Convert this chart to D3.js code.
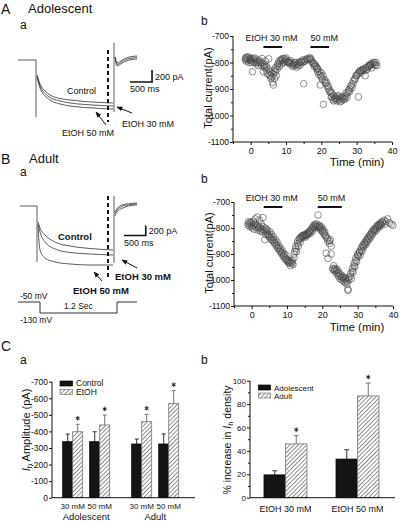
<!DOCTYPE html>
<html><head><meta charset="utf-8">
<script src="https://cdn.jsdelivr.net/npm/d3@7"></script>
<style>body{margin:0;background:#fff}svg{display:block;font-family:"Liberation Sans",Arimo,Arial,sans-serif}</style>
</head><body><svg id="c" width="400" height="521"></svg>
<script>
// ---------------- DATA ----------------
// Current traces (time in ms from step onset, current in pA)
const traceTimeA = [23, 91, 205, 318, 545, 773, 1114, 1455, 1750];
const traceA_control = [-250, -400, -517, -583, -642, -667, -692, -708, -717];
const traceA_etoh30 = [-267, -433, -558, -625, -683, -717, -742, -758, -767];
const traceA_etoh50 = [-283, -467, -600, -667, -733, -767, -792, -808, -817];
const tailTime = [1795, 1841, 1955, 2068, 2295];
const tailA_control = [50, -50, 0, 40, 67];
const tailA_etoh30 = [45, -75, -25, 15, 42];
const tailA_etoh50 = [40, -100, -50, -10, 17];
const transientA = {on: [0, -950], off: [283, -867]};

const traceTimeB = [23, 69, 184, 414, 759, 1220, 1750];
const traceB_control = [-320, -440, -580, -720, -800, -850, -880];
const traceB_etoh30 = [-360, -520, -720, -860, -930, -960, -980];
const traceB_etoh50 = [-400, -880, -1040, -1120, -1160, -1180, -1180];
const tailTimeB = [1790, 1850, 1950, 2100, 2300];
const tailB_control = [-120, -40, 20, 45, 60];
const tailB_etoh30 = [-150, -70, -10, 20, 45];
const tailB_etoh50 = [-200, -110, -50, 0, 20];
const transientB = {on: [0, -1120], off: [200, -1140]};
const stepEnd = 1770;

// Voltage protocol (ms, mV)
const protoTime = [-343, 0, 0, 1200, 1200, 1511];
const protoVolt = [-50, -50, -130, -130, -50, -50];

// Time-course scatter (min, pA)
const scatterA = [[-1.5,-785],[-1.5,-790],[-1.3,-780],[-1.2,-795],[-1,-783],[-0.8,-790],[-0.7,-778],[-0.5,-800],[-0.3,-785],[-0.2,-792],[0,-790],[0,-783],[0.2,-800],[0.5,-795],[0.5,-835],[0.7,-785],[1,-790],[1,-800],[1.2,-783],[1.5,-795],[1.6,-805],[2,-790],[2,-800],[2.2,-812],[2.5,-800],[2.5,-793],[3,-800],[3,-810],[3.2,-785],[3.5,-805],[3.6,-835],[3.8,-815],[4,-810],[4,-820],[4.2,-795],[4.5,-815],[4.5,-830],[4.7,-842],[5,-825],[5.1,-786],[5.2,-845],[5.5,-835],[5.5,-850],[5.7,-860],[6,-840],[6,-855],[6.2,-875],[6.4,-885],[6.5,-845],[6.7,-830],[6.8,-860],[7,-835],[7,-820],[7.3,-850],[7.5,-815],[7.5,-825],[7.7,-805],[8,-805],[8,-795],[8.2,-815],[8.5,-795],[8.5,-790],[8.8,-805],[9,-790],[9,-785],[9.3,-800],[9.5,-785],[9.7,-795],[10,-790],[10,-783],[10.3,-798],[10.5,-795],[10.7,-800],[11,-798],[11,-805],[11.2,-792],[11.5,-802],[11.7,-810],[12,-805],[12,-815],[12.3,-800],[12.5,-810],[12.7,-800],[13,-808],[13,-818],[13.3,-805],[13.5,-812],[13.7,-798],[14,-800],[14,-810],[14.3,-795],[14.5,-800],[14.8,-790],[15,-880],[15,-798],[15.3,-795],[15.5,-790],[16,-790],[16,-785],[16.5,-788],[16.7,-782],[17,-785],[17,-790],[17.3,-795],[17.5,-800],[17.7,-805],[18,-805],[18,-815],[18.3,-810],[18.5,-815],[18.7,-825],[18.8,-820],[19,-825],[19,-835],[19.3,-845],[19.5,-835],[19.7,-885],[19.8,-850],[20,-840],[20,-855],[20.3,-865],[20.5,-850],[20.6,-958],[21,-865],[21,-875],[21.3,-880],[21.5,-875],[21.7,-890],[22,-890],[22,-900],[22.3,-910],[22.5,-905],[22.7,-915],[22.8,-930],[23,-915],[23,-930],[23.3,-940],[23.5,-925],[23.5,-945],[23.8,-935],[24,-930],[24,-940],[24.3,-935],[24.5,-945],[24.7,-925],[25,-940],[25,-930],[25.3,-948],[25.5,-935],[25.7,-945],[26,-935],[26,-928],[26.3,-940],[26.5,-930],[26.7,-938],[27,-925],[27,-915],[27.3,-932],[27.5,-915],[27.7,-905],[28,-900],[28,-910],[28.3,-890],[28.5,-885],[28.7,-895],[29,-870],[29,-880],[29.5,-860],[29.5,-865],[29.8,-850],[30,-850],[30.2,-845],[30.5,-930],[30.5,-840],[30.7,-835],[31,-835],[31,-830],[31.3,-840],[31.5,-830],[31.7,-825],[32,-825],[32,-830],[32.4,-850],[32.5,-820],[32.7,-828],[33,-818],[33,-825],[33.3,-812],[33.5,-815],[33.7,-810],[34,-810],[34,-805],[34.3,-820],[34.5,-805],[34.7,-800],[35,-800],[35,-808],[35.3,-810],[35.5,-800],[35.7,-812]];
const scatterB = [[-1,-782],[-1,-790],[-0.8,-775],[-0.5,-785],[-0.5,-795],[-0.3,-778],[0,-780],[0,-792],[0.2,-800],[0.5,-790],[0.5,-775],[0.7,-805],[1,-785],[1,-765],[1.2,-798],[1.5,-790],[1.6,-758],[1.8,-808],[2,-795],[2,-800],[2.2,-770],[2.5,-800],[2.5,-812],[2.7,-785],[3,-805],[3,-815],[3.2,-795],[3.2,-760],[3.5,-810],[3.7,-845],[3.8,-800],[4,-815],[4,-825],[4.2,-805],[4.5,-820],[4.5,-810],[4.7,-830],[5,-825],[5,-835],[5.2,-815],[5.5,-835],[5.5,-845],[5.7,-825],[6,-845],[6,-850],[6.2,-835],[6.5,-855],[6.5,-860],[6.7,-845],[7,-865],[7,-870],[7.2,-855],[7.5,-875],[7.5,-880],[7.7,-868],[8,-885],[8,-890],[8.2,-878],[8.5,-895],[8.5,-900],[8.7,-888],[9,-905],[9,-910],[9.2,-898],[9.5,-915],[9.5,-920],[9.7,-905],[10,-920],[10,-925],[10.2,-930],[10.5,-930],[10.5,-935],[10.7,-925],[11,-935],[11,-945],[11.2,-930],[11.5,-925],[11.5,-935],[11.7,-940],[12,-900],[12,-915],[12.2,-890],[12.5,-880],[12.5,-870],[12.7,-890],[13,-860],[13,-850],[13.2,-870],[13.5,-845],[13.5,-840],[13.7,-855],[14,-840],[14,-835],[14.2,-830],[14.5,-835],[14.5,-830],[14.7,-828],[15,-830],[15,-825],[15.2,-835],[15.5,-825],[15.5,-830],[15.7,-820],[16,-820],[16,-825],[16.2,-815],[16.5,-815],[16.5,-810],[16.7,-820],[17,-805],[17,-800],[17.2,-812],[17.5,-795],[17.5,-790],[17.7,-800],[18,-790],[18,-785],[18.2,-795],[18.5,-785],[18.5,-795],[18.8,-750],[19,-795],[19,-800],[19.2,-790],[19.5,-800],[19.5,-808],[19.7,-795],[20,-810],[20,-815],[20.2,-805],[20.5,-820],[20.5,-825],[20.7,-815],[21,-830],[21,-835],[21.1,-897],[21.5,-840],[21.5,-850],[21.6,-917],[22,-850],[22,-860],[22.2,-845],[22.5,-870],[22.5,-900],[23,-955],[23,-960],[23.2,-945],[23.5,-960],[23.5,-965],[23.7,-955],[24,-965],[24,-975],[24.2,-960],[24.5,-975],[24.5,-985],[24.7,-970],[25,-985],[25,-995],[25.2,-980],[25.5,-990],[25.5,-1000],[25.7,-985],[26,-995],[26,-1005],[26.2,-990],[26.5,-1000],[26.5,-1010],[26.7,-995],[27,-1005],[27,-1015],[27.2,-1035],[27.5,-1000],[27.5,-990],[27.3,-1040],[28,-985],[28,-975],[28.2,-995],[28.5,-965],[28.5,-955],[28.7,-970],[29,-945],[29,-935],[29.2,-950],[29.5,-925],[29.5,-915],[29.7,-930],[30,-905],[30,-900],[30.2,-910],[30.5,-895],[30.5,-890],[30.7,-905],[31,-885],[31,-875],[31.2,-890],[31.5,-870],[31.5,-865],[31.7,-875],[32,-860],[32,-855],[32.2,-865],[32.5,-850],[32.5,-845],[32.7,-855],[33,-840],[33,-835],[33.2,-845],[33.5,-830],[33.5,-825],[33.7,-835],[34,-820],[34,-815],[34.2,-825],[34.5,-810],[34.5,-805],[34.7,-815],[35,-805],[35,-800],[35.2,-810],[35.5,-795],[35.5,-790],[35.7,-800],[36,-790],[36,-785],[36.2,-795],[36.5,-785],[36.5,-780],[36.7,-790],[37,-780],[37,-775],[37.5,-770],[37.7,-785],[38,-775],[38.5,-765],[39,-780],[39.5,-785],[40,-790]];
const periodsA = [[3.6, 8.9], [16.9, 22.2]];
const periodsB = [[3.4, 8.7], [18.7, 25.5]];
const periodLabels = ["EtOH 30 mM", "50 mM"];
const scatterYTicks = [-1100, -1000, -900, -800, -700];
const scatterYMinor = [-1050, -950, -850, -750];
const scatterXTicks = [0, 10, 20, 30, 40];
const scatterXMinor = [-5, 5, 15, 25, 35];

// Panel C a: Ih amplitude (pA)
const ageGroups = ["Adolescent", "Adult"];
const concs = ["30 mM", "50 mM"];
const conditions = ["Control", "EtOH"];
const ihControl = [-338, -338, -324, -324];
const ihControlErr = [-384, -398, -354, -385];
const ihEtoh = [-398, -439, -459, -569];
const ihEtohErr = [-443, -499, -503, -646];
const ihTicks = [0, -100, -200, -300, -400, -500, -600, -700];

// Panel C b: % increase in Ih density
const doseGroups = ["EtOH 30 mM", "EtOH 50 mM"];
const incAdolescent = [19.5, 33];
const incAdolescentErr = [23, 41];
const incAdult = [46, 87];
const incAdultErr = [53, 98];
const incTicks = [0, 20, 40, 60, 80, 100];
const incMinor = [10, 30, 50, 70, 90];

// ---------------- DRAW ----------------
const svg = d3.select("#c");
const INK = "#111";
function txt(x, y, s, size, opt = {}) {
  const t = svg.append("text").attr("x", x).attr("y", y).text(s)
    .attr("font-size", size).attr("fill", INK);
  if (opt.anchor) t.attr("text-anchor", opt.anchor);
  if (opt.weight) t.attr("font-weight", opt.weight);
  return t;
}
const defs = svg.append("defs");
defs.append("marker").attr("id", "arr").attr("viewBox", "0 0 10 10")
  .attr("refX", 9).attr("refY", 5).attr("markerWidth", 6).attr("markerHeight", 6)
  .attr("orient", "auto").append("path").attr("d", "M0,1L10,5L0,9z").attr("fill", INK);
const pat = defs.append("pattern").attr("id", "hatch").attr("patternUnits", "userSpaceOnUse")
  .attr("width", 3).attr("height", 3).attr("patternTransform", "rotate(45)");
pat.append("rect").attr("width", 3).attr("height", 3).attr("fill", "#fff");
pat.append("line").attr("x1", 0.5).attr("y1", 0).attr("x2", 0.5).attr("y2", 3)
  .attr("stroke", "#8c8c8c").attr("stroke-width", 1);

function arrow(x1, y1, x2, y2) {
  svg.append("line").attr("x1", x1).attr("y1", y1).attr("x2", x2).attr("y2", y2)
    .attr("stroke", INK).attr("stroke-width", 1).attr("marker-end", "url(#arr)");
}
// significance asterisk drawn as a small six-armed mark centred above the error bar
function star(cx, cy) {
  const r = 2.3, p = [];
  for (let k = 0; k < 3; k++) {
    const a = Math.PI / 2 + k * Math.PI / 3;
    p.push(`M${cx + r * Math.cos(a)},${cy - r * Math.sin(a)}L${cx - r * Math.cos(a)},${cy + r * Math.sin(a)}`);
  }
  svg.append("path").attr("d", p.join("")).attr("stroke", "#111").attr("stroke-width", 0.9).attr("fill", "none");
}

// ---- Trace panels ----
function tracePanel(cfg) {
  const x = cfg.x, y = cfg.y;
  const line = d3.line().x(d => x(d[0])).y(d => y(d[1])).curve(d3.curveMonotoneX);
  const g = svg.append("g").attr("fill", "none").attr("stroke", "#333").attr("stroke-width", 0.8);
  g.append("path").attr("d", d3.line()([[x(cfg.baseStart), y(0)], [x(0), y(0)]]));
  g.append("path").attr("d", d3.line()([[x(0), y(cfg.trans.on[0])], [x(0), y(cfg.trans.on[1])]]));
  g.append("path").attr("d", d3.line()([[x(stepEnd), y(cfg.trans.off[0])], [x(stepEnd), y(cfg.trans.off[1])]]));
  cfg.traces.forEach(tr => {
    g.append("path").attr("d", line(cfg.time.map((t, i) => [t, tr[i]])));
  });
  cfg.tails.forEach(tr => {
    g.append("path").attr("d", line(cfg.tailTime.map((t, i) => [t, tr[i]])));
  });
  svg.append("line").attr("x1", cfg.dashX).attr("x2", cfg.dashX).attr("y1", cfg.dashY[0]).attr("y2", cfg.dashY[1])
    .attr("stroke", INK).attr("stroke-width", 2).attr("stroke-dasharray", "4,3");
  const [sx, sy] = cfg.bar;
  const w = x(500) - x(0), h = y(-200) - y(0);
  svg.append("path").attr("d", `M${sx},${sy}H${sx + w}V${sy - h}`)
    .attr("fill", "none").attr("stroke", INK).attr("stroke-width", 1.6);
  txt(sx + w + 3, sy - 2, "200 pA", 9);
  txt(sx, sy + 10, "500 ms", 9);
}

// Panel A a
const xTA = d3.scaleLinear().domain([0, stepEnd]).range([36, 114]);
const yTA = d3.scaleLinear().domain([0, -200]).range([60, 72]);
tracePanel({x: xTA, y: yTA, baseStart: -410, trans: transientA, time: traceTimeA,
  traces: [traceA_control, traceA_etoh30, traceA_etoh50], tailTime: tailTime,
  tails: [tailA_control, tailA_etoh30, tailA_etoh50], dashX: 108, dashY: [50, 122], bar: [130, 82]});
txt(1, 14, "A", 14);
txt(28, 13, "Adolescent", 13);
txt(20, 29, "a", 12);
txt(67, 94, "Control", 9);
arrow(132, 113, 117, 107);
txt(122, 127, "EtOH 30 mM", 9);
arrow(106, 125, 96, 112);
txt(62, 136, "EtOH 50 mM", 9);

// Panel B a
const xTB = d3.scaleLinear().domain([0, stepEnd]).range([37, 114]);
const yTB = d3.scaleLinear().domain([0, -200]).range([206, 216]);
tracePanel({x: xTB, y: yTB, baseStart: -390, trans: transientB, time: traceTimeB,
  traces: [traceB_control, traceB_etoh30, traceB_etoh50], tailTime: tailTimeB,
  tails: [tailB_control, tailB_etoh30, tailB_etoh50], dashX: 108, dashY: [196, 277], bar: [124, 235.5]});
txt(1, 164, "B", 14);
txt(29, 163, "Adult", 13);
txt(20, 176, "a", 12);
txt(58, 240, "Control", 9.5, {weight: "bold"});
arrow(137, 268, 122, 260);
txt(115, 280, "EtOH 30 mM", 9.5, {weight: "bold"});
arrow(102, 281, 94, 272);
txt(73, 294, "EtOH 50 mM", 9.5, {weight: "bold"});

// Voltage protocol
const xP = d3.scaleLinear().domain([0, 1200]).range([40, 117]);
const yP = d3.scaleLinear().domain([-50, -130]).range([302, 313]);
svg.append("path").attr("d", d3.line().x(d => xP(d[0])).y(d => yP(d[1]))(protoTime.map((t, i) => [t, protoVolt[i]])))
  .attr("fill", "none").attr("stroke", "#333").attr("stroke-width", 1);
txt(20, 299, "-50 mV", 8.5);
txt(64, 309, "1.2 Sec", 8.5);
txt(20, 323, "-130 mV", 8.5);

// ---- Scatter panels ----
function scatterPanel(cfg) {
  const x = d3.scaleLinear().domain([-5, 40]).range(cfg.xr);
  const y = d3.scaleLinear().domain([-1100, -700]).range(cfg.yr);
  const ax = svg.append("g").attr("transform", `translate(0,${cfg.yr[0]})`)
    .call(d3.axisBottom(x).tickValues(scatterXTicks).tickSize(3).tickPadding(3).tickFormat(d => String(d)));
  svg.append("g").attr("transform", `translate(0,${cfg.yr[0]})`)
    .call(d3.axisBottom(x).tickValues(scatterXMinor).tickSize(2).tickFormat(""))
    .select(".domain").remove();
  const ay = svg.append("g").attr("transform", `translate(${cfg.xr[0]},0)`)
    .call(d3.axisLeft(y).tickValues(scatterYTicks).tickSize(3).tickPadding(1).tickFormat(d => String(d)));
  svg.append("g").attr("transform", `translate(${cfg.xr[0]},0)`)
    .call(d3.axisLeft(y).tickValues(scatterYMinor).tickSize(2).tickFormat(""))
    .select(".domain").remove();
  [ax, ay].forEach(a => { a.attr("font-family", null); a.selectAll("text").attr("font-size", 8.5).attr("fill", INK); });
  ax.selectAll("text").attr("font-size", 9);
  ax.select(".domain").attr("d", `M${cfg.xr[0]},0H${cfg.xr[1]}`);
  ay.select(".domain").attr("d", `M0,${cfg.yr[0]}V${cfg.yr[1]}`);
  svg.append("g").selectAll("circle").data(cfg.data).join("circle")
    .attr("cx", d => x(d[0])).attr("cy", d => y(d[1])).attr("r", 3.3)
    .attr("fill", "none").attr("stroke", "#444").attr("stroke-width", 0.6);
  cfg.periods.forEach((p, i) => {
    svg.append("line").attr("x1", x(p[0])).attr("x2", x(p[1])).attr("y1", cfg.barY).attr("y2", cfg.barY)
      .attr("stroke", INK).attr("stroke-width", 2);
    txt(i === 0 ? x(p[0]) - 18 : x(p[0]), cfg.barY - 6, periodLabels[i], 9);
  });
  svg.append("text").attr("transform", `translate(${cfg.xr[0] - 21},${cfg.titleY}) rotate(-90)`)
    .attr("text-anchor", "middle").attr("font-size", 11).attr("fill", INK).text("Total current(pA)");
  txt(357, cfg.timeY, "Time (min)", 11.5, {anchor: "middle"});
  txt(201, cfg.bY, "b", 12);
}
scatterPanel({data: scatterA, xr: [233, 392], yr: [142, 36], periods: periodsA, barY: 47, titleY: 88, timeY: 166, bY: 25});
scatterPanel({data: scatterB, xr: [234, 393], yr: [306, 202], periods: periodsB, barY: 207, titleY: 253, timeY: 331, bY: 183});

// ---- Panel C a ----
txt(1, 351, "C", 14);
txt(20, 364, "a", 12);
const yCa = d3.scaleLinear().domain([0, -700]).range([497.7, 381.7]);
const xAge = d3.scaleBand().domain(ageGroups).range([62.7, 178.7]).paddingInner(0.319);
const xConc = d3.scaleBand().domain(concs).range([0, xAge.bandwidth()]).paddingInner(0.26);
const xCond = d3.scaleBand().domain(conditions).range([0, xConc.bandwidth()]);
const caRows = [];
ageGroups.forEach((a, ai) => concs.forEach((c, ci) => {
  const k = ai * 2 + ci;
  caRows.push({a, c, cond: "Control", v: ihControl[k], e: ihControlErr[k], star: false});
  caRows.push({a, c, cond: "EtOH", v: ihEtoh[k], e: ihEtohErr[k], star: true});
}));
function barX(d) { return xAge(d.a) + xConc(d.c) + xCond(d.cond); }
const bw = xCond.bandwidth();
caRows.forEach(d => {
  const x0 = barX(d), cx = x0 + bw / 2;
  const col = d.cond === "Control" ? "#333" : "#777";
  svg.append("line").attr("x1", cx).attr("x2", cx).attr("y1", yCa(d.v)).attr("y2", yCa(d.e)).attr("stroke", col).attr("stroke-width", 1);
  svg.append("line").attr("x1", cx - 2).attr("x2", cx + 2).attr("y1", yCa(d.e)).attr("y2", yCa(d.e)).attr("stroke", col).attr("stroke-width", 1);
  svg.append("rect").attr("x", x0).attr("y", yCa(d.v)).attr("width", bw).attr("height", yCa(0) - yCa(d.v))
    .attr("fill", d.cond === "Control" ? "#141414" : "url(#hatch)")
    .attr("stroke", d.cond === "Control" ? "#000" : "#777").attr("stroke-width", 0.8);
  if (d.star) star(cx, yCa(d.e) - 6);
});
const aCa = svg.append("g").attr("transform", "translate(52,0)")
  .call(d3.axisLeft(yCa).tickValues(ihTicks).tickSize(3).tickPadding(1).tickFormat(d => String(d)));
aCa.attr("font-family", null).selectAll("text").attr("font-size", 8.5).attr("fill", INK);
aCa.select(".domain").attr("d", `M0,${yCa(0)}V${yCa(-700)}`);
svg.append("line").attr("x1", 52).attr("x2", 195).attr("y1", yCa(0)).attr("y2", yCa(0)).attr("stroke", INK);
ageGroups.forEach(a => {
  concs.forEach(c => txt(xAge(a) + xConc(c) + xConc.bandwidth() / 2, 508.5, c, 8, {anchor: "middle"}));
  txt(xAge(a) + xAge.bandwidth() / 2, 520, a, 9.5, {anchor: "middle"});
});
[["Control", "#141414", 381, 386], ["EtOH", "url(#hatch)", 389.5, 395]].forEach(l => {
  svg.append("rect").attr("x", 60).attr("y", l[2]).attr("width", 12.5).attr("height", 5)
    .attr("fill", l[1]).attr("stroke", l[1] === "#141414" ? "#000" : "#777").attr("stroke-width", 0.7);
  txt(76, l[3], l[0], 8.5);
});
const ylab = svg.append("text").attr("transform", "translate(30,430) rotate(-90)")
  .attr("text-anchor", "middle").attr("font-size", 11).attr("fill", INK);
ylab.append("tspan").attr("font-style", "italic").text("I");
ylab.append("tspan").attr("font-size", 8).attr("dy", 2).text("h");
ylab.append("tspan").attr("dy", -2).text(" Amplitude (pA)");

// ---- Panel C b ----
txt(201, 364, "b", 12);
const yCb = d3.scaleLinear().domain([0, 100]).range([497.7, 380.7]);
const xDose = d3.scaleBand().domain(doseGroups).range([264, 379]).paddingInner(0.403);
const xAgeB = d3.scaleBand().domain(ageGroups).range([0, xDose.bandwidth()]);
const cbRows = [];
doseGroups.forEach((g, i) => {
  cbRows.push({g, a: "Adolescent", v: incAdolescent[i], e: incAdolescentErr[i], star: false});
  cbRows.push({g, a: "Adult", v: incAdult[i], e: incAdultErr[i], star: true});
});
const bwb = xAgeB.bandwidth();
cbRows.forEach(d => {
  const x0 = xDose(d.g) + xAgeB(d.a), cx = x0 + bwb / 2;
  const col = d.a === "Adolescent" ? "#333" : "#777";
  svg.append("line").attr("x1", cx).attr("x2", cx).attr("y1", yCb(d.v)).attr("y2", yCb(d.e)).attr("stroke", col);
  svg.append("line").attr("x1", cx - 2.5).attr("x2", cx + 2.5).attr("y1", yCb(d.e)).attr("y2", yCb(d.e)).attr("stroke", col);
  svg.append("rect").attr("x", x0).attr("y", yCb(d.v)).attr("width", bwb).attr("height", yCb(0) - yCb(d.v))
    .attr("fill", d.a === "Adolescent" ? "#141414" : "url(#hatch)")
    .attr("stroke", d.a === "Adolescent" ? "#000" : "#777").attr("stroke-width", 0.8);
  if (d.star) star(cx, yCb(d.e) - 6);
});
const aCb = svg.append("g").attr("transform", "translate(250,0)")
  .call(d3.axisLeft(yCb).tickValues(incTicks).tickSize(3).tickPadding(1).tickFormat(d => String(d)));
aCb.attr("font-family", null).selectAll("text").attr("font-size", 8).attr("fill", INK);
aCb.select(".domain").attr("d", `M0,${yCb(0)}V${yCb(100)}`);
svg.append("g").attr("transform", "translate(250,0)")
  .call(d3.axisLeft(yCb).tickValues(incMinor).tickSize(2).tickFormat("")).select(".domain").remove();
svg.append("line").attr("x1", 250).attr("x2", 395).attr("y1", yCb(0)).attr("y2", yCb(0)).attr("stroke", INK);
doseGroups.forEach(g => txt(xDose(g) + xDose.bandwidth() / 2, 511.5, g, 9, {anchor: "middle"}));
[["Adolescent", "#141414", 385, 390.5], ["Adult", "url(#hatch)", 393, 398.5]].forEach(l => {
  svg.append("rect").attr("x", 258.5).attr("y", l[2]).attr("width", 12).attr("height", 5)
    .attr("fill", l[1]).attr("stroke", l[1] === "#141414" ? "#000" : "#777").attr("stroke-width", 0.7);
  txt(274, l[3], l[0], 8);
});
const ylab2 = svg.append("text").attr("transform", "translate(231,440) rotate(-90)")
  .attr("text-anchor", "middle").attr("font-size", 10.5).attr("fill", INK);
ylab2.append("tspan").text("% increase in ");
ylab2.append("tspan").attr("font-style", "italic").text("I");
ylab2.append("tspan").attr("font-size", 7.5).attr("dy", 2).text("h");
ylab2.append("tspan").attr("dy", -2).text(" density");
svg.selectAll(".tick line, .domain").attr("stroke", INK);
</script></body></html>
